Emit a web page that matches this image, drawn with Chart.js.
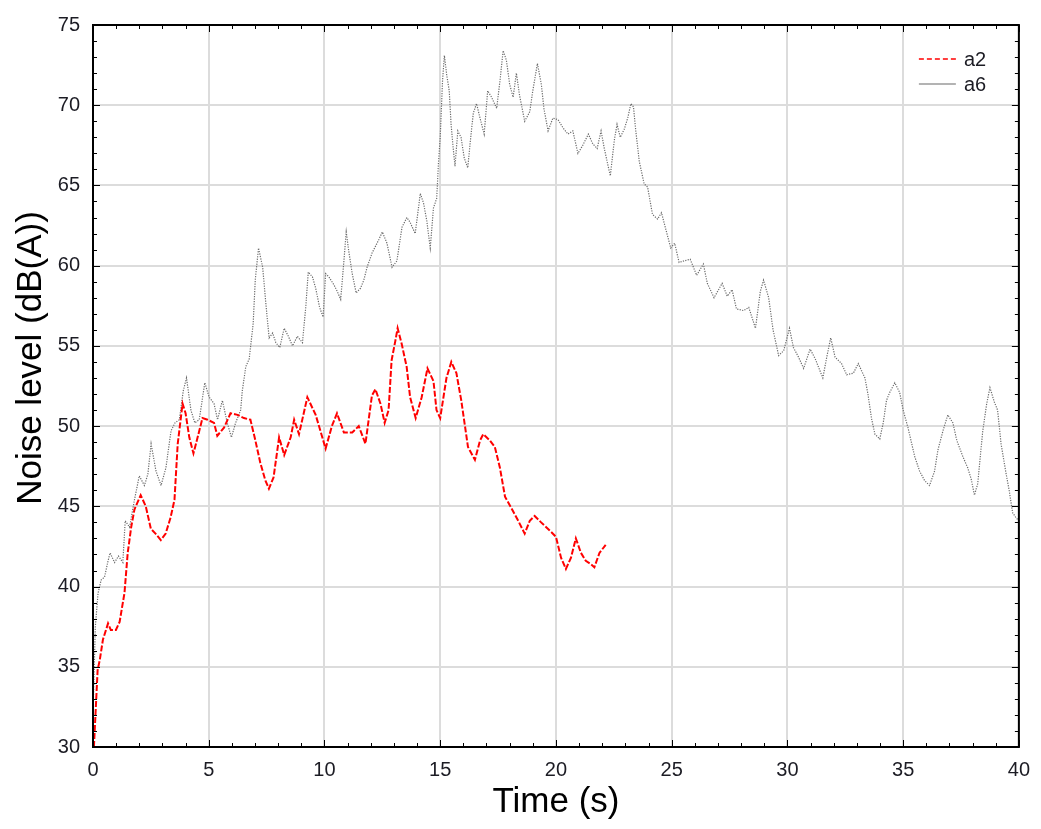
<!DOCTYPE html>
<html>
<head>
<meta charset="utf-8">
<script src="https://cdn.jsdelivr.net/npm/chart.js@4.4.1/dist/chart.umd.min.js"></script>
<style>
  html, body { margin: 0; padding: 0; background: #ffffff; }
  #wrap { width: 1041px; height: 829px; }
</style>
</head>
<body>
<div id="wrap"><canvas id="c" width="1041" height="829"></canvas></div>
<script>
// ---- Data ----
const xTicks = [0, 5, 10, 15, 20, 25, 30, 35, 40];
const yTicks = [30, 35, 40, 45, 50, 55, 60, 65, 70, 75];
const seriesNames = ['a2', 'a6'];
const xTitle = 'Time (s)';
const yTitle = 'Noise level (dB(A))';

const a2Time = [0.04,0.2,0.29,0.43,0.65,0.77,0.99,1.15,1.36,1.5,
  1.65,1.79,2.06,2.28,2.5,2.7,2.93,3.14,3.35,3.52,
  3.66,3.87,4.0,4.16,4.34,4.52,4.73,4.95,5.23,5.37,
  5.66,5.94,6.24,6.52,6.8,7.0,7.23,7.45,7.6,7.8,
  8.04,8.26,8.54,8.69,8.9,9.26,9.62,10.05,10.32,10.54,
  10.84,11.2,11.48,11.77,12.05,12.2,12.42,12.6,12.77,12.9,
  13.06,13.16,13.34,13.55,13.7,13.94,14.2,14.45,14.71,14.84,
  15.0,15.27,15.48,15.7,15.91,16.2,16.5,16.72,16.86,17.15,
  17.36,17.58,17.8,18.07,18.37,18.65,18.87,19.08,19.36,19.73,
  20.0,20.22,20.43,20.65,20.86,21.08,21.29,21.5,21.66,21.88,
  22.15];
const a2Level = [30.0,34.8,35.4,36.7,37.7,37.3,37.3,37.8,39.6,42.1,
  43.7,44.8,45.7,45.0,43.6,43.3,42.9,43.3,44.3,45.4,
  48.9,51.4,50.8,49.3,48.3,49.3,50.5,50.4,50.2,49.4,
  49.9,50.8,50.7,50.5,50.4,49.2,47.7,46.6,46.1,46.8,
  49.3,48.2,49.3,50.4,49.5,51.8,50.7,48.6,50.0,50.8,
  49.6,49.6,50.0,48.9,51.9,52.3,51.4,50.2,51.0,54.1,
  55.3,56.1,55.1,53.7,51.8,50.5,51.8,53.6,52.8,51.0,
  50.5,53.0,54.0,53.3,51.6,48.7,47.9,49.1,49.5,49.1,
  48.7,47.4,45.6,44.9,44.1,43.3,44.1,44.4,44.0,43.5,
  43.1,41.8,41.1,41.8,43.0,42.1,41.6,41.4,41.2,42.1,
  42.6];

const a6Time = [0,0.1,0.22,0.35,0.5,0.65,0.74,0.93,1.1,1.29,
  1.39,1.58,1.79,2.0,2.22,2.37,2.51,2.72,2.94,3.15,
  3.37,3.54,3.73,3.9,4.04,4.23,4.4,4.59,4.83,5.02,
  5.23,5.38,5.59,5.8,5.98,6.16,6.38,6.45,6.6,6.75,
  6.92,7.01,7.15,7.33,7.47,7.61,7.76,7.9,8.07,8.26,
  8.44,8.62,8.83,9.05,9.19,9.3,9.48,9.62,9.79,9.94,
  10.05,10.19,10.41,10.55,10.7,10.84,10.94,11.05,11.2,11.37,
  11.56,11.7,11.84,12.06,12.2,12.34,12.5,12.7,12.92,13.13,
  13.35,13.56,13.7,13.92,14.14,14.28,14.42,14.57,14.71,14.85,
  14.92,15.0,15.1,15.18,15.28,15.39,15.47,15.57,15.64,15.76,
  15.9,16.04,16.19,16.29,16.43,16.57,16.72,16.9,17.05,17.22,
  17.44,17.58,17.72,17.86,18.0,18.15,18.29,18.43,18.65,18.87,
  19.0,19.2,19.37,19.48,19.66,19.87,20.09,20.3,20.52,20.73,
  20.95,21.16,21.4,21.59,21.78,21.95,22.09,22.24,22.35,22.52,
  22.64,22.78,22.95,23.1,23.24,23.35,23.45,23.6,23.81,23.96,
  24.17,24.39,24.56,24.74,24.96,25.13,25.32,25.54,25.8,26.08,
  26.37,26.54,26.83,27.18,27.4,27.61,27.8,28.11,28.33,28.62,
  28.83,28.97,29.19,29.38,29.62,29.84,30.09,30.26,30.48,30.7,
  30.98,31.2,31.53,31.7,31.87,32.06,32.34,32.56,32.85,33.06,
  33.35,33.49,33.63,33.78,33.99,34.14,34.28,34.42,34.64,34.85,
  35.0,35.21,35.5,35.71,35.93,36.14,36.36,36.5,36.72,36.93,
  37.15,37.32,37.58,37.79,37.94,38.08,38.22,38.44,38.61,38.75,
  38.94,39.08,39.23,39.44,39.58,39.73,39.87,40.0];
const a6Level = [32.0,37.5,39.6,40.4,40.6,41.6,42.1,41.5,41.9,41.5,
  44.1,43.7,45.4,46.9,46.3,47.0,48.9,47.2,46.3,47.4,
  49.7,50.2,50.4,52.2,53.0,51.0,50.2,50.4,52.7,51.8,
  51.4,50.4,51.6,50.2,49.3,50.2,51.0,52.2,53.7,54.2,
  56.4,59.1,61.1,59.9,57.6,55.5,55.8,55.2,54.9,56.1,
  55.6,55.0,55.6,55.2,57.4,59.6,59.3,58.6,57.4,56.8,
  59.5,59.3,58.8,58.4,57.9,60.3,62.1,60.9,59.5,58.3,
  58.6,59.1,59.9,60.8,61.2,61.6,62.1,61.4,59.9,60.3,
  62.4,63.0,62.7,62.0,64.5,63.9,62.8,61.1,63.6,64.2,
  66.3,68.0,71.5,73.1,71.9,70.9,68.8,67.2,66.2,68.4,
  68.0,66.7,66.1,67.6,69.5,70.1,69.2,68.2,70.9,70.5,
  69.8,71.5,73.4,72.8,71.3,70.5,72.0,70.6,69.0,69.6,
  70.9,72.6,71.3,69.8,68.4,69.2,69.1,68.6,68.2,68.4,
  67.0,67.5,68.2,67.6,67.3,68.4,67.3,66.3,65.6,67.8,
  68.8,68.0,68.5,69.2,70.1,69.9,68.4,66.5,65.1,64.9,
  63.2,62.9,63.3,62.3,61.1,61.4,60.2,60.3,60.4,59.4,
  60.1,58.9,58.0,58.9,58.1,58.5,57.3,57.2,57.4,56.1,
  58.4,59.1,58.0,56.0,54.4,54.7,56.1,54.9,54.3,53.6,
  54.8,54.2,53.0,54.3,55.5,54.3,53.9,53.2,53.3,53.9,
  53.0,51.9,50.5,49.5,49.2,50.2,51.6,52.1,52.7,52.1,
  51.0,49.9,48.1,47.2,46.6,46.3,47.2,48.5,49.7,50.7,
  50.2,49.1,48.1,47.4,46.7,45.7,46.4,49.7,51.4,52.4,
  51.5,51.0,48.9,47.1,46.0,44.6,44.3,44.1];

// ---- Build library data ----
function pairs(t, v) {
  const n = Math.min(t.length, v.length);
  const out = [];
  for (let i = 0; i < n; i++) out.push({ x: t[i], y: v[i] });
  return out;
}

const FONT = "'Liberation Sans', Arial, sans-serif";
const TEXT = '#1c1c24';

const frameTicks = {
  id: 'frameTicks',
  afterDraw(chart) {
    const { ctx, chartArea: a, scales } = chart;
    const xs = scales.x, ys = scales.y;
    ctx.save();
    ctx.strokeStyle = '#000';
    ctx.lineWidth = 1;
    // minor + major ticks, inward on all four sides
    for (let v = xs.min; v <= xs.max + 1e-9; v += 1) {
      const px = Math.round(xs.getPixelForValue(v)) + 0.5;
      const len = (Math.abs(v % 5) < 1e-9) ? 7 : 4;
      ctx.beginPath();
      ctx.moveTo(px, a.bottom); ctx.lineTo(px, a.bottom - len);
      ctx.moveTo(px, a.top); ctx.lineTo(px, a.top + len);
      ctx.stroke();
    }
    for (let v = ys.min; v <= ys.max + 1e-9; v += 1) {
      const py = Math.round(ys.getPixelForValue(v)) + 0.5;
      const len = (Math.abs(v % 5) < 1e-9) ? 7 : 4;
      ctx.beginPath();
      ctx.moveTo(a.left, py); ctx.lineTo(a.left + len, py);
      ctx.moveTo(a.right, py); ctx.lineTo(a.right - len, py);
      ctx.stroke();
    }
    // frame
    ctx.lineWidth = 2;
    ctx.strokeRect(a.left, a.top, a.right - a.left, a.bottom - a.top);

    // y axis title (rotated)
    ctx.save();
    ctx.translate(31, 358);
    ctx.rotate(-Math.PI / 2);
    ctx.font = '35px ' + FONT;
    ctx.fillStyle = '#000';
    ctx.textAlign = 'center';
    ctx.textBaseline = 'middle';
    ctx.fillText(yTitle, 0, 0);
    ctx.restore();

    // legend inside plot, top right
    const lx0 = a.right - 100, lx1 = a.right - 63, tx = a.right - 55;
    const rows = [
      { y: a.top + 34, color: '#ff0000', dash: [5, 3], w: 1.5, label: seriesNames[0] },
      { y: a.top + 59, color: '#9a9a9a', dash: [], w: 1.5, label: seriesNames[1] }
    ];
    ctx.font = '20px ' + FONT;
    ctx.textBaseline = 'middle';
    ctx.textAlign = 'left';
    ctx.fillStyle = TEXT;
    rows.forEach(r => {
      ctx.beginPath();
      ctx.setLineDash(r.dash);
      ctx.strokeStyle = r.color;
      ctx.lineWidth = r.w;
      ctx.moveTo(lx0, r.y); ctx.lineTo(lx1, r.y);
      ctx.stroke();
      ctx.setLineDash([]);
      ctx.fillText(r.label, tx, r.y + 1);
    });
    ctx.restore();
  }
};

new Chart(document.getElementById('c'), {
  type: 'line',
  data: {
    datasets: [
      {
        label: seriesNames[0],
        data: pairs(a2Time, a2Level),
        borderColor: '#ff0000',
        borderWidth: 2,
        borderDash: [6, 2],
        pointRadius: 0,
        tension: 0,
        fill: false
      },
      {
        label: seriesNames[1],
        data: pairs(a6Time, a6Level),
        borderColor: '#6a6a6a',
        borderWidth: 1.2,
        borderDash: [1.2, 1.3],
        pointRadius: 0,
        tension: 0,
        fill: false
      }
    ]
  },
  options: {
    responsive: false,
    animation: false,
    devicePixelRatio: 1,
    layout: { padding: { top: 24, right: 18, left: 0, bottom: 0 } },
    plugins: { legend: { display: false }, tooltip: { enabled: false } },
    scales: {
      x: {
        type: 'linear',
        min: 0, max: 40,
        afterBuildTicks: s => { s.ticks = xTicks.map(v => ({ value: v })); },
        afterFit: s => { s.height = 82; },
        ticks: { color: TEXT, font: { family: FONT, size: 20 }, padding: 11, maxRotation: 0 },
        grid: { color: '#dcdcdc', lineWidth: 2, drawTicks: false },
        border: { display: false },
        title: { display: true, text: xTitle, color: '#000', font: { family: FONT, size: 35, lineHeight: 1.2 }, padding: { top: 0, bottom: 6 } }
      },
      y: {
        type: 'linear',
        min: 30, max: 75,
        afterBuildTicks: s => { s.ticks = yTicks.map(v => ({ value: v })); },
        afterFit: s => { s.width = 93; },
        ticks: { color: TEXT, font: { family: FONT, size: 20 }, padding: 13 },
        grid: { color: '#dcdcdc', lineWidth: 2, drawTicks: false },
        border: { display: false },
        title: { display: false, text: yTitle }
      }
    }
  },
  plugins: [frameTicks]
});
</script>
</body>
</html>
